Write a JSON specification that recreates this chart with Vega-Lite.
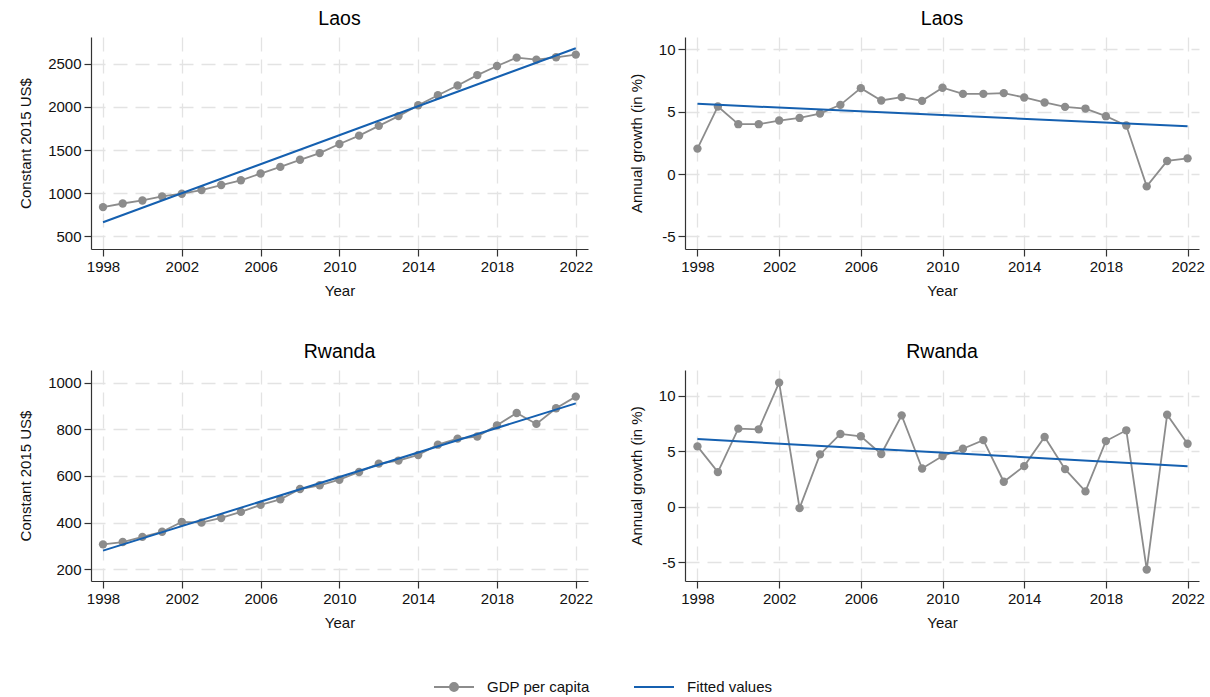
{
  "$schema": "https://vega.github.io/schema/vega-lite/v6.json",
  "padding": {"left": 18, "top": 8, "right": 5, "bottom": 5},
  "background": "white",
  "datasets": {
    "gdp": [
      {"country":"Laos","measure":"level","year":1998,"value":839,"series":"GDP per capita"},
      {"country":"Laos","measure":"level","year":1999,"value":881,"series":"GDP per capita"},
      {"country":"Laos","measure":"level","year":2000,"value":916,"series":"GDP per capita"},
      {"country":"Laos","measure":"level","year":2001,"value":963,"series":"GDP per capita"},
      {"country":"Laos","measure":"level","year":2002,"value":994,"series":"GDP per capita"},
      {"country":"Laos","measure":"level","year":2003,"value":1037,"series":"GDP per capita"},
      {"country":"Laos","measure":"level","year":2004,"value":1095,"series":"GDP per capita"},
      {"country":"Laos","measure":"level","year":2005,"value":1150,"series":"GDP per capita"},
      {"country":"Laos","measure":"level","year":2006,"value":1228,"series":"GDP per capita"},
      {"country":"Laos","measure":"level","year":2007,"value":1305,"series":"GDP per capita"},
      {"country":"Laos","measure":"level","year":2008,"value":1387,"series":"GDP per capita"},
      {"country":"Laos","measure":"level","year":2009,"value":1465,"series":"GDP per capita"},
      {"country":"Laos","measure":"level","year":2010,"value":1570,"series":"GDP per capita"},
      {"country":"Laos","measure":"level","year":2011,"value":1667,"series":"GDP per capita"},
      {"country":"Laos","measure":"level","year":2012,"value":1780,"series":"GDP per capita"},
      {"country":"Laos","measure":"level","year":2013,"value":1893,"series":"GDP per capita"},
      {"country":"Laos","measure":"level","year":2014,"value":2018,"series":"GDP per capita"},
      {"country":"Laos","measure":"level","year":2015,"value":2134,"series":"GDP per capita"},
      {"country":"Laos","measure":"level","year":2016,"value":2247,"series":"GDP per capita"},
      {"country":"Laos","measure":"level","year":2017,"value":2368,"series":"GDP per capita"},
      {"country":"Laos","measure":"level","year":2018,"value":2473,"series":"GDP per capita"},
      {"country":"Laos","measure":"level","year":2019,"value":2570,"series":"GDP per capita"},
      {"country":"Laos","measure":"level","year":2020,"value":2547,"series":"GDP per capita"},
      {"country":"Laos","measure":"level","year":2021,"value":2574,"series":"GDP per capita"},
      {"country":"Laos","measure":"level","year":2022,"value":2605,"series":"GDP per capita"},
      {"country":"Laos","measure":"level","year":1998,"value":664,"series":"Fitted values"},
      {"country":"Laos","measure":"level","year":2022,"value":2679,"series":"Fitted values"},

      {"country":"Laos","measure":"growth","year":1998,"value":2.04,"series":"GDP per capita"},
      {"country":"Laos","measure":"growth","year":1999,"value":5.42,"series":"GDP per capita"},
      {"country":"Laos","measure":"growth","year":2000,"value":4.0,"series":"GDP per capita"},
      {"country":"Laos","measure":"growth","year":2001,"value":4.0,"series":"GDP per capita"},
      {"country":"Laos","measure":"growth","year":2002,"value":4.29,"series":"GDP per capita"},
      {"country":"Laos","measure":"growth","year":2003,"value":4.5,"series":"GDP per capita"},
      {"country":"Laos","measure":"growth","year":2004,"value":4.85,"series":"GDP per capita"},
      {"country":"Laos","measure":"growth","year":2005,"value":5.55,"series":"GDP per capita"},
      {"country":"Laos","measure":"growth","year":2006,"value":6.89,"series":"GDP per capita"},
      {"country":"Laos","measure":"growth","year":2007,"value":5.9,"series":"GDP per capita"},
      {"country":"Laos","measure":"growth","year":2008,"value":6.17,"series":"GDP per capita"},
      {"country":"Laos","measure":"growth","year":2009,"value":5.87,"series":"GDP per capita"},
      {"country":"Laos","measure":"growth","year":2010,"value":6.92,"series":"GDP per capita"},
      {"country":"Laos","measure":"growth","year":2011,"value":6.43,"series":"GDP per capita"},
      {"country":"Laos","measure":"growth","year":2012,"value":6.43,"series":"GDP per capita"},
      {"country":"Laos","measure":"growth","year":2013,"value":6.49,"series":"GDP per capita"},
      {"country":"Laos","measure":"growth","year":2014,"value":6.14,"series":"GDP per capita"},
      {"country":"Laos","measure":"growth","year":2015,"value":5.74,"series":"GDP per capita"},
      {"country":"Laos","measure":"growth","year":2016,"value":5.39,"series":"GDP per capita"},
      {"country":"Laos","measure":"growth","year":2017,"value":5.25,"series":"GDP per capita"},
      {"country":"Laos","measure":"growth","year":2018,"value":4.64,"series":"GDP per capita"},
      {"country":"Laos","measure":"growth","year":2019,"value":3.89,"series":"GDP per capita"},
      {"country":"Laos","measure":"growth","year":2020,"value":-0.99,"series":"GDP per capita"},
      {"country":"Laos","measure":"growth","year":2021,"value":1.05,"series":"GDP per capita"},
      {"country":"Laos","measure":"growth","year":2022,"value":1.26,"series":"GDP per capita"},
      {"country":"Laos","measure":"growth","year":1998,"value":5.63,"series":"Fitted values"},
      {"country":"Laos","measure":"growth","year":2022,"value":3.83,"series":"Fitted values"},

      {"country":"Rwanda","measure":"level","year":1998,"value":307,"series":"GDP per capita"},
      {"country":"Rwanda","measure":"level","year":1999,"value":317,"series":"GDP per capita"},
      {"country":"Rwanda","measure":"level","year":2000,"value":339,"series":"GDP per capita"},
      {"country":"Rwanda","measure":"level","year":2001,"value":361,"series":"GDP per capita"},
      {"country":"Rwanda","measure":"level","year":2002,"value":403,"series":"GDP per capita"},
      {"country":"Rwanda","measure":"level","year":2003,"value":400,"series":"GDP per capita"},
      {"country":"Rwanda","measure":"level","year":2004,"value":420,"series":"GDP per capita"},
      {"country":"Rwanda","measure":"level","year":2005,"value":446,"series":"GDP per capita"},
      {"country":"Rwanda","measure":"level","year":2006,"value":476,"series":"GDP per capita"},
      {"country":"Rwanda","measure":"level","year":2007,"value":500,"series":"GDP per capita"},
      {"country":"Rwanda","measure":"level","year":2008,"value":544,"series":"GDP per capita"},
      {"country":"Rwanda","measure":"level","year":2009,"value":560,"series":"GDP per capita"},
      {"country":"Rwanda","measure":"level","year":2010,"value":584,"series":"GDP per capita"},
      {"country":"Rwanda","measure":"level","year":2011,"value":617,"series":"GDP per capita"},
      {"country":"Rwanda","measure":"level","year":2012,"value":653,"series":"GDP per capita"},
      {"country":"Rwanda","measure":"level","year":2013,"value":666,"series":"GDP per capita"},
      {"country":"Rwanda","measure":"level","year":2014,"value":690,"series":"GDP per capita"},
      {"country":"Rwanda","measure":"level","year":2015,"value":734,"series":"GDP per capita"},
      {"country":"Rwanda","measure":"level","year":2016,"value":760,"series":"GDP per capita"},
      {"country":"Rwanda","measure":"level","year":2017,"value":769,"series":"GDP per capita"},
      {"country":"Rwanda","measure":"level","year":2018,"value":817,"series":"GDP per capita"},
      {"country":"Rwanda","measure":"level","year":2019,"value":870,"series":"GDP per capita"},
      {"country":"Rwanda","measure":"level","year":2020,"value":823,"series":"GDP per capita"},
      {"country":"Rwanda","measure":"level","year":2021,"value":890,"series":"GDP per capita"},
      {"country":"Rwanda","measure":"level","year":2022,"value":940,"series":"GDP per capita"},
      {"country":"Rwanda","measure":"level","year":1998,"value":280,"series":"Fitted values"},
      {"country":"Rwanda","measure":"level","year":2022,"value":911,"series":"Fitted values"},

      {"country":"Rwanda","measure":"growth","year":1998,"value":5.45,"series":"GDP per capita"},
      {"country":"Rwanda","measure":"growth","year":1999,"value":3.13,"series":"GDP per capita"},
      {"country":"Rwanda","measure":"growth","year":2000,"value":7.05,"series":"GDP per capita"},
      {"country":"Rwanda","measure":"growth","year":2001,"value":6.99,"series":"GDP per capita"},
      {"country":"Rwanda","measure":"growth","year":2002,"value":11.2,"series":"GDP per capita"},
      {"country":"Rwanda","measure":"growth","year":2003,"value":-0.12,"series":"GDP per capita"},
      {"country":"Rwanda","measure":"growth","year":2004,"value":4.73,"series":"GDP per capita"},
      {"country":"Rwanda","measure":"growth","year":2005,"value":6.57,"series":"GDP per capita"},
      {"country":"Rwanda","measure":"growth","year":2006,"value":6.36,"series":"GDP per capita"},
      {"country":"Rwanda","measure":"growth","year":2007,"value":4.76,"series":"GDP per capita"},
      {"country":"Rwanda","measure":"growth","year":2008,"value":8.25,"series":"GDP per capita"},
      {"country":"Rwanda","measure":"growth","year":2009,"value":3.46,"series":"GDP per capita"},
      {"country":"Rwanda","measure":"growth","year":2010,"value":4.58,"series":"GDP per capita"},
      {"country":"Rwanda","measure":"growth","year":2011,"value":5.24,"series":"GDP per capita"},
      {"country":"Rwanda","measure":"growth","year":2012,"value":6.02,"series":"GDP per capita"},
      {"country":"Rwanda","measure":"growth","year":2013,"value":2.26,"series":"GDP per capita"},
      {"country":"Rwanda","measure":"growth","year":2014,"value":3.67,"series":"GDP per capita"},
      {"country":"Rwanda","measure":"growth","year":2015,"value":6.3,"series":"GDP per capita"},
      {"country":"Rwanda","measure":"growth","year":2016,"value":3.4,"series":"GDP per capita"},
      {"country":"Rwanda","measure":"growth","year":2017,"value":1.39,"series":"GDP per capita"},
      {"country":"Rwanda","measure":"growth","year":2018,"value":5.93,"series":"GDP per capita"},
      {"country":"Rwanda","measure":"growth","year":2019,"value":6.9,"series":"GDP per capita"},
      {"country":"Rwanda","measure":"growth","year":2020,"value":-5.66,"series":"GDP per capita"},
      {"country":"Rwanda","measure":"growth","year":2021,"value":8.31,"series":"GDP per capita"},
      {"country":"Rwanda","measure":"growth","year":2022,"value":5.69,"series":"GDP per capita"},
      {"country":"Rwanda","measure":"growth","year":1998,"value":6.11,"series":"Fitted values"},
      {"country":"Rwanda","measure":"growth","year":2022,"value":3.67,"series":"Fitted values"}
    ]
  },
  "data": {"name": "gdp"},
  "columns": 2,
  "spacing": {"row": 43, "column": 36},
  "resolve": {"scale": {"x": "independent", "y": "independent", "color": "shared"}, "legend": {"color": "shared"}},
  "concat": [
    {
      "title": "Laos",
      "width": 497, "height": 212,
      "transform": [{"filter": "datum.country === 'Laos' && datum.measure === 'level'"}],
      "encoding": {
        "x": {"field": "year", "type": "quantitative", "scale": {"domain": [1997.39, 2022.62], "nice": false, "zero": false},
              "axis": {"values": [1998, 2002, 2006, 2010, 2014, 2018, 2022], "format": "d", "title": "Year"}},
        "y": {"field": "value", "type": "quantitative", "scale": {"domain": [354, 2809], "nice": false, "zero": false},
              "axis": {"values": [500, 1000, 1500, 2000, 2500], "format": "d", "title": "Constant 2015 US$"}},
        "color": {"field": "series", "type": "nominal",
                  "scale": {"domain": ["GDP per capita", "Fitted values"], "range": ["#8c8c8c", "#1560b0"]},
                  "legend": {"orient": "none", "legendX": 342, "legendY": 629,
                    "encode": {"symbols": {"update": {
                    "shape": {"signal": "datum.value === 'GDP per capita' ? 'M-1,0H1M-0.2,0A0.2,0.2 0 1,0 0.2,0A0.2,0.2 0 1,0 -0.2,0Z' : 'M-1,0H1'"},
                    "fill": {"signal": "datum.value === 'GDP per capita' ? '#8c8c8c' : 'transparent'"},
                    "stroke": {"signal": "datum.value === 'GDP per capita' ? '#8c8c8c' : '#1560b0'"},
                    "opacity": {"value": 1},
                    "strokeWidth": {"value": 2}}}}}}
      },
      "layer": [
        {"transform": [{"filter": "datum.series === 'GDP per capita'"}], "mark": {"type": "line", "strokeWidth": 1.8}},
        {"transform": [{"filter": "datum.series === 'GDP per capita'"}], "mark": {"type": "point", "filled": true, "size": 70, "opacity": 1}},
        {"transform": [{"filter": "datum.series === 'Fitted values'"}], "mark": {"type": "line", "strokeWidth": 2}}
      ]
    },
    {
      "title": "Laos",
      "width": 514, "height": 212,
      "transform": [{"filter": "datum.country === 'Laos' && datum.measure === 'growth'"}],
      "encoding": {
        "x": {"field": "year", "type": "quantitative", "scale": {"domain": [1997.39, 2022.56], "nice": false, "zero": false},
              "axis": {"values": [1998, 2002, 2006, 2010, 2014, 2018, 2022], "format": "d", "title": "Year"}},
        "y": {"field": "value", "type": "quantitative", "scale": {"domain": [-6.01, 10.99], "nice": false, "zero": false},
              "axis": {"values": [-5, 0, 5, 10], "labelExpr": "'' + datum.value", "title": "Annual growth (in %)"}},
        "color": {"field": "series", "type": "nominal",
                  "scale": {"domain": ["GDP per capita", "Fitted values"], "range": ["#8c8c8c", "#1560b0"]}}
      },
      "layer": [
        {"transform": [{"filter": "datum.series === 'GDP per capita'"}], "mark": {"type": "line", "strokeWidth": 1.8}},
        {"transform": [{"filter": "datum.series === 'GDP per capita'"}], "mark": {"type": "point", "filled": true, "size": 70, "opacity": 1}},
        {"transform": [{"filter": "datum.series === 'Fitted values'"}], "mark": {"type": "line", "strokeWidth": 2}}
      ]
    },
    {
      "title": "Rwanda",
      "width": 497, "height": 211,
      "transform": [{"filter": "datum.country === 'Rwanda' && datum.measure === 'level'"}],
      "encoding": {
        "x": {"field": "year", "type": "quantitative", "scale": {"domain": [1997.39, 2022.62], "nice": false, "zero": false},
              "axis": {"values": [1998, 2002, 2006, 2010, 2014, 2018, 2022], "format": "d", "title": "Year"}},
        "y": {"field": "value", "type": "quantitative", "scale": {"domain": [150, 1054], "nice": false, "zero": false},
              "axis": {"values": [200, 400, 600, 800, 1000], "format": "d", "title": "Constant 2015 US$"}},
        "color": {"field": "series", "type": "nominal",
                  "scale": {"domain": ["GDP per capita", "Fitted values"], "range": ["#8c8c8c", "#1560b0"]}}
      },
      "layer": [
        {"transform": [{"filter": "datum.series === 'GDP per capita'"}], "mark": {"type": "line", "strokeWidth": 1.8}},
        {"transform": [{"filter": "datum.series === 'GDP per capita'"}], "mark": {"type": "point", "filled": true, "size": 70, "opacity": 1}},
        {"transform": [{"filter": "datum.series === 'Fitted values'"}], "mark": {"type": "line", "strokeWidth": 2}}
      ]
    },
    {
      "title": "Rwanda",
      "width": 514, "height": 211,
      "transform": [{"filter": "datum.country === 'Rwanda' && datum.measure === 'growth'"}],
      "encoding": {
        "x": {"field": "year", "type": "quantitative", "scale": {"domain": [1997.39, 2022.56], "nice": false, "zero": false},
              "axis": {"values": [1998, 2002, 2006, 2010, 2014, 2018, 2022], "format": "d", "title": "Year"}},
        "y": {"field": "value", "type": "quantitative", "scale": {"domain": [-6.69, 12.34], "nice": false, "zero": false},
              "axis": {"values": [-5, 0, 5, 10], "labelExpr": "'' + datum.value", "title": "Annual growth (in %)"}},
        "color": {"field": "series", "type": "nominal",
                  "scale": {"domain": ["GDP per capita", "Fitted values"], "range": ["#8c8c8c", "#1560b0"]}}
      },
      "layer": [
        {"transform": [{"filter": "datum.series === 'GDP per capita'"}], "mark": {"type": "line", "strokeWidth": 1.8}},
        {"transform": [{"filter": "datum.series === 'GDP per capita'"}], "mark": {"type": "point", "filled": true, "size": 70, "opacity": 1}},
        {"transform": [{"filter": "datum.series === 'Fitted values'"}], "mark": {"type": "line", "strokeWidth": 2}}
      ]
    }
  ],
  "config": {
    "font": "Liberation Sans",
    "view": {"stroke": null},
    "title": {"fontSize": 19.5, "fontWeight": "normal", "color": "#000000", "font": "Liberation Sans", "offset": 8},
    "axis": {
      "domainColor": "#333333", "domainWidth": 1.2, "tickColor": "#333333", "tickWidth": 1.2, "tickSize": 7,
      "labelFontSize": 15, "labelColor": "#111111", "labelPadding": 3, "labelFont": "Liberation Sans",
      "titleFontSize": 15, "titleFontWeight": "normal", "titleColor": "#111111", "titleFont": "Liberation Sans",
      "grid": true, "gridColor": "#e3e3e3", "gridWidth": 1.3, "gridDash": [14, 8]
    },
    "axisX": {"titlePadding": 9, "labelFlush": false},
    "axisY": {"titlePadding": 14},
    "legend": {"direction": "horizontal", "title": null, "symbolSize": 1600, "symbolType": "M-1,0H1",
               "labelFontSize": 15, "labelColor": "#111111", "labelOffset": 12, "columnPadding": 40, "labelFont": "Liberation Sans"}
  }
}
